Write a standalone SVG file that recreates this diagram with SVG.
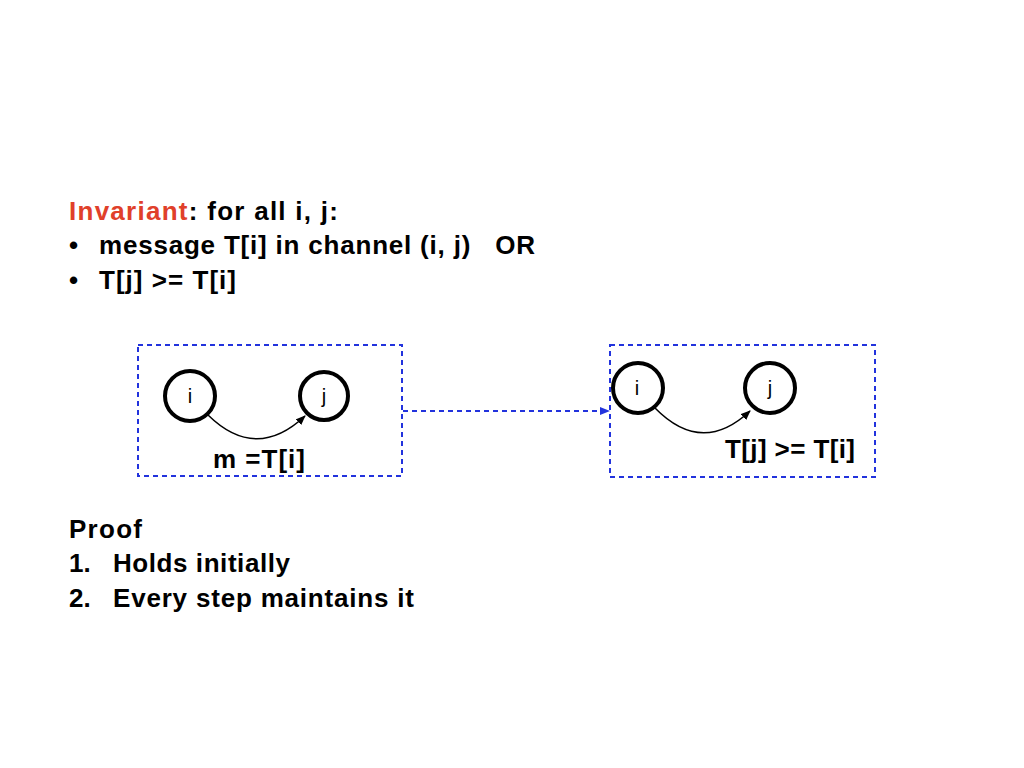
<svg xmlns="http://www.w3.org/2000/svg" width="1024" height="768" viewBox="0 0 1024 768">
<style>
text{font-family:"Liberation Sans",Arial,sans-serif;font-weight:bold;fill:#000}
.t{font-size:26px}
.n{font-size:20px;font-weight:normal}
.box{fill:none;stroke:#2233dd;stroke-width:2;stroke-dasharray:5,4}
.node{fill:#fff;stroke:#000;stroke-width:4}
.edge{fill:none;stroke:#000;stroke-width:1.5}
</style>
<defs>
<marker id="ah" markerWidth="10" markerHeight="8" refX="9" refY="4" orient="auto" markerUnits="userSpaceOnUse">
<path d="M0,0 L10,4 L0,8 Z" fill="#000"/>
</marker>
<marker id="bh" markerWidth="10" markerHeight="8" refX="9" refY="4" orient="auto" markerUnits="userSpaceOnUse">
<path d="M0,0 L10,4 L0,8 Z" fill="#2233dd"/>
</marker>
</defs>
<rect width="1024" height="768" fill="#fff"/>
<g id="invariant">
<text class="t" x="69" y="220" textLength="269" lengthAdjust="spacing"><tspan fill="#e0402a">Invariant</tspan>: for all i, j:</text>
<text class="t" x="69" y="254">•</text>
<text class="t" x="99" y="254" textLength="436" lengthAdjust="spacing" xml:space="preserve">message T[i] in channel (i, j)   OR</text>
<text class="t" x="69" y="289">•</text>
<text class="t" x="99" y="289" textLength="137" lengthAdjust="spacing">T[j] &gt;= T[i]</text>
</g>
<g id="proof">
<text class="t" x="69" y="538" textLength="73" lengthAdjust="spacing">Proof</text>
<text class="t" x="69" y="572">1.</text>
<text class="t" x="113" y="572" textLength="177" lengthAdjust="spacing">Holds initially</text>
<text class="t" x="69" y="607">2.</text>
<text class="t" x="113" y="607" textLength="301" lengthAdjust="spacing">Every step maintains it</text>
</g>
<g id="state1">
<rect class="box" x="138" y="345" width="264" height="131"/>
<text class="t" x="213" y="468" textLength="92" lengthAdjust="spacing">m =T[i]</text>
</g>
<g id="state2">
<rect class="box" x="610" y="345" width="265" height="132"/>
<text class="t" x="725" y="458" textLength="130" lengthAdjust="spacing">T[j] &gt;= T[i]</text>
</g>
<g id="connectors">
<path class="edge" d="M208,415 Q256,462 305,416" marker-end="url(#ah)"/>
<path class="edge" d="M655,408 Q702,456 750,411" marker-end="url(#ah)"/>
<line x1="403" y1="411" x2="609" y2="411" stroke="#2233dd" stroke-width="2" stroke-dasharray="5,4" marker-end="url(#bh)"/>
</g>
<g id="node-i1"><circle class="node" cx="190" cy="396" r="25"/><text class="n" x="190" y="403" text-anchor="middle">i</text></g>
<g id="node-j1"><circle class="node" cx="324" cy="396" r="24"/><text class="n" x="324" y="403" text-anchor="middle">j</text></g>
<g id="node-i2"><circle class="node" cx="638" cy="388" r="25"/><text class="n" x="637" y="395" text-anchor="middle">i</text></g>
<g id="node-j2"><circle class="node" cx="770" cy="388" r="25"/><text class="n" x="770" y="395" text-anchor="middle">j</text></g>
</svg>
